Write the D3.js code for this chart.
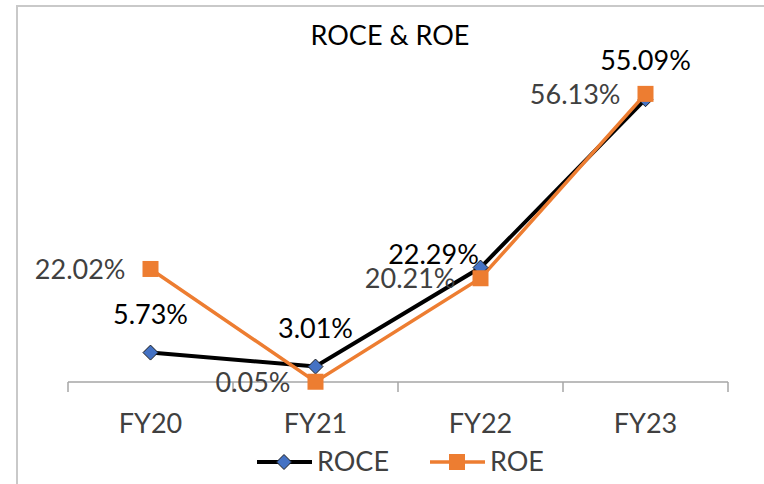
<!DOCTYPE html>
<html>
<head>
<meta charset="utf-8">
<script src="https://cdn.jsdelivr.net/npm/d3@7"></script>
<style>
  html, body { margin: 0; padding: 0; background: #fff; }
  svg { display: block; font-family: Lato, "Liberation Sans", sans-serif; }
</style>
</head>
<body>
<div id="chart"></div>
<script>
// Data
const categories = ["FY20", "FY21", "FY22", "FY23"];
const roce = [5.73, 3.01, 22.29, 55.09];
const roe = [22.02, 0.05, 20.21, 56.13];
const yDomain = [0, 60];

// one ROCE label was dragged by hand in the original
const roceLabelNudge = { FY22: [-47, 25] };

const width = 764;
const height = 484;

const svg = d3
  .select("#chart")
  .append("svg")
  .attr("width", width)
  .attr("height", height);

// chart frame (only top/left edges visible in the crop)
svg
  .append("path")
  .attr("d", "M17,484 V6 H764")
  .attr("fill", "none")
  .attr("stroke", "#c9c9c9")
  .attr("stroke-width", 2);

// Scales
const x = d3.scaleBand().domain(categories).range([68, 728]).padding(0);
const y = d3.scaleLinear().domain(yDomain).range([382, 74]);
const cx = (d) => x(d) + x.bandwidth() / 2;

// Title
svg
  .append("text")
  .attr("x", 390)
  .attr("y", 45)
  .attr("text-anchor", "middle")
  .style("font-size", "27px")
  .style("fill", "#000")
  .text("ROCE & ROE");

// X axis, ticks between categories
const axis = svg.append("g").attr("transform", `translate(0,${y(0)})`);
axis
  .append("line")
  .attr("x1", x.range()[0])
  .attr("x2", x.range()[1])
  .attr("stroke", "#a6a6a6")
  .attr("stroke-width", 1.5);
axis
  .selectAll(".tick")
  .data(categories.concat([null]))
  .enter()
  .append("line")
  .attr("x1", (d, i) => x.range()[0] + i * x.bandwidth())
  .attr("x2", (d, i) => x.range()[0] + i * x.bandwidth())
  .attr("y1", 0)
  .attr("y2", 10)
  .attr("stroke", "#a6a6a6")
  .attr("stroke-width", 1.5);
axis
  .selectAll(".lbl")
  .data(categories)
  .enter()
  .append("text")
  .attr("x", cx)
  .attr("y", 51)
  .attr("text-anchor", "middle")
  .style("font-size", "27px")
  .style("fill", "#404040")
  .text((d) => d);

const line = d3
  .line()
  .x((d, i) => cx(categories[i]))
  .y((d) => y(d));

// ROCE series
svg
  .append("path")
  .datum(roce)
  .attr("d", line)
  .attr("fill", "none")
  .attr("stroke", "#000")
  .attr("stroke-width", 4);

// ROE series
svg
  .append("path")
  .datum(roe)
  .attr("d", line)
  .attr("fill", "none")
  .attr("stroke", "#ED7D31")
  .attr("stroke-width", 3.5);

const diamond = (s) => `M0,${-s} L${s},0 L0,${s} L${-s},0 Z`;

svg
  .selectAll(".roce-mk")
  .data(roce)
  .enter()
  .append("path")
  .attr("transform", (d, i) => `translate(${cx(categories[i])},${y(d)})`)
  .attr("d", diamond(7.5))
  .attr("fill", "#4472C4")
  .attr("stroke", "#1f1f1f")
  .attr("stroke-width", 1);

svg
  .selectAll(".roe-mk")
  .data(roe)
  .enter()
  .append("rect")
  .attr("x", (d, i) => cx(categories[i]) - 8)
  .attr("y", (d) => y(d) - 8)
  .attr("width", 16)
  .attr("height", 16)
  .attr("fill", "#ED7D31");

// Data labels: ROCE above, ROE to the left
const nudge = (i) => roceLabelNudge[categories[i]] || [0, 0];
svg
  .selectAll(".roce-lbl")
  .data(roce)
  .enter()
  .append("text")
  .attr("x", (d, i) => cx(categories[i]) + nudge(i)[0])
  .attr("y", (d, i) => y(d) - 29 + nudge(i)[1])
  .attr("text-anchor", "middle")
  .style("font-size", "27px")
  .style("fill", "#000")
  .text((d) => d.toFixed(2) + "%");

svg
  .selectAll(".roe-lbl")
  .data(roe)
  .enter()
  .append("text")
  .attr("x", (d, i) => cx(categories[i]) - 25)
  .attr("y", (d) => y(d) + 10)
  .attr("text-anchor", "end")
  .style("font-size", "27px")
  .style("fill", "#404040")
  .text((d) => d.toFixed(2) + "%");

// Legend
const legend = svg.append("g").attr("transform", "translate(0,462)");
const items = [
  { name: "ROCE", color: "#000", x0: 257 },
  { name: "ROE", color: "#ED7D31", x0: 430 },
];
items.forEach((it) => {
  legend
    .append("line")
    .attr("x1", it.x0)
    .attr("x2", it.x0 + 55)
    .attr("stroke", it.color)
    .attr("stroke-width", it.name === "ROCE" ? 4 : 3.5);
  if (it.name === "ROCE") {
    legend
      .append("path")
      .attr("transform", `translate(${it.x0 + 27},0)`)
      .attr("d", diamond(7.5))
      .attr("fill", "#4472C4")
      .attr("stroke", "#1f1f1f")
      .attr("stroke-width", 1);
  } else {
    legend
      .append("rect")
      .attr("x", it.x0 + 27 - 8)
      .attr("y", -8)
      .attr("width", 16)
      .attr("height", 16)
      .attr("fill", "#ED7D31");
  }
  legend
    .append("text")
    .attr("x", it.x0 + 60)
    .attr("y", 9)
    .style("font-size", "27px")
    .style("fill", "#404040")
    .text(it.name);
});
</script>
</body>
</html>
